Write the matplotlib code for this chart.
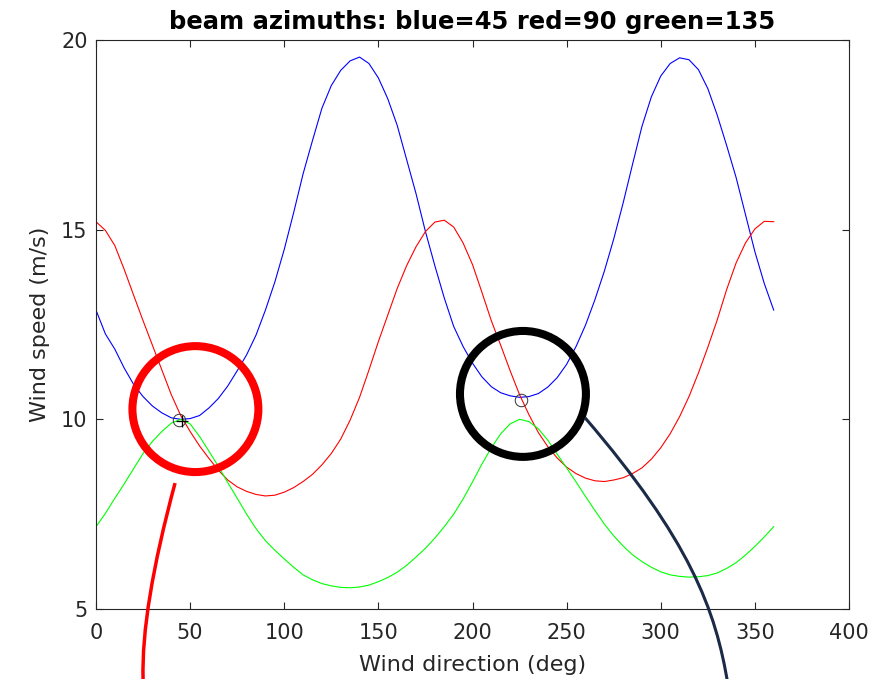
import numpy as np
import matplotlib
matplotlib.use("Agg")
import matplotlib.pyplot as plt
from matplotlib.patches import Ellipse, PathPatch
from matplotlib.path import Path

# ---- data ----
direction = list(range(0, 365, 5))

blue_speed = [12.88, 12.25, 11.85, 11.35, 10.92, 10.60, 10.35, 10.17, 10.04, 10.00,
              10.02, 10.10, 10.30, 10.55, 10.88, 11.28, 11.70, 12.22, 12.88, 13.62,
              14.48, 15.45, 16.47, 17.35, 18.20, 18.80, 19.20, 19.45, 19.55, 19.38,
              19.00, 18.45, 17.75, 16.85, 15.95, 14.95, 14.05, 13.20, 12.45, 11.92,
              11.48, 11.12, 10.86, 10.70, 10.62, 10.58, 10.60, 10.68, 10.85, 11.10,
              11.45, 11.92, 12.48, 13.15, 13.90, 14.75, 15.70, 16.72, 17.72, 18.50,
              19.05, 19.38, 19.53, 19.48, 19.22, 18.72, 18.02, 17.22, 16.38, 15.40,
              14.42, 13.58, 12.88]

red_speed = [15.21, 14.98, 14.58, 13.95, 13.27, 12.60, 11.95, 11.30, 10.65, 10.10,
             9.68, 9.30, 8.97, 8.66, 8.40, 8.22, 8.10, 8.02, 7.98, 8.00,
             8.08, 8.20, 8.36, 8.55, 8.80, 9.10, 9.48, 9.98, 10.58, 11.30,
             12.05, 12.75, 13.45, 14.05, 14.55, 14.95, 15.20, 15.25, 15.07, 14.65,
             14.08, 13.35, 12.60, 11.95, 11.28, 10.65, 10.12, 9.65, 9.28, 8.98,
             8.74, 8.57, 8.45, 8.38, 8.36, 8.40, 8.46, 8.57, 8.72, 8.95,
             9.25, 9.62, 10.07, 10.60, 11.22, 11.90, 12.62, 13.42, 14.12, 14.65,
             15.02, 15.22, 15.21]

green_speed = [7.17, 7.52, 7.92, 8.30, 8.70, 9.10, 9.42, 9.68, 9.90, 10.00,
               9.88, 9.55, 9.16, 8.76, 8.33, 7.92, 7.50, 7.12, 6.80, 6.55,
               6.32, 6.10, 5.90, 5.77, 5.67, 5.61, 5.57, 5.56, 5.58, 5.63,
               5.72, 5.83, 5.97, 6.15, 6.37, 6.60, 6.87, 7.17, 7.50, 7.90,
               8.35, 8.82, 9.25, 9.62, 9.88, 10.00, 9.94, 9.75, 9.45, 9.08,
               8.72, 8.35, 7.97, 7.60, 7.24, 6.93, 6.66, 6.43, 6.25, 6.10,
               5.98, 5.90, 5.86, 5.84, 5.85, 5.88, 5.95, 6.07, 6.22, 6.42,
               6.65, 6.90, 7.17]

solution_dir = [44.0, 226.0]
solution_speed = [9.98, 10.52]
true_dir = [45.5]
true_speed = [9.95]

x_ticks = [0, 50, 100, 150, 200, 250, 300, 350, 400]
y_ticks = [5, 10, 15, 20]

title = "beam azimuths: blue=45 red=90 green=135"

# ---- figure ----
plt.rcParams['font.family'] = ['DejaVu Sans']
fig = plt.figure(figsize=(8.9, 6.79), dpi=100)
ax = fig.add_axes([96 / 890, 70 / 679, 753 / 890, 569 / 679])

ax.plot(direction, blue_speed, color=(0, 0, 1), lw=0.8)
ax.plot(direction, red_speed, color=(1, 0, 0), lw=0.8)
ax.plot(direction, green_speed, color=(0, 1, 0), lw=0.8)
ax.plot(solution_dir, solution_speed, 'o', mfc='none', mec='#333333', ms=9, mew=0.7)
ax.plot(true_dir, true_speed, '+', color='black', ms=9, mew=0.9)

ax.set_xlim(0, 400)
ax.set_ylim(5, 20)
ax.set_xticks(x_ticks)
ax.set_yticks(y_ticks)
ax.tick_params(direction='in', length=5, width=0.8, colors='#262626',
               labelsize=15, top=True, right=True)
ax.tick_params(axis='x', pad=10)
ax.tick_params(axis='y', pad=6)
for s in ax.spines.values():
    s.set_color('#262626')
    s.set_linewidth(0.8)

ax.set_xlabel("Wind direction (deg)", fontsize=16, color='#262626', labelpad=9)
ax.set_ylabel("Wind speed (m/s)", fontsize=16, color='#262626', labelpad=8)
ax.set_title(title, fontsize=17.5, fontweight='bold', pad=8)

# ---- annotations ----
ax.add_patch(Ellipse((52.8, 10.27), 66.9, 3.32, fill=False, ec=(1, 0, 0),
                     lw=5.8, clip_on=False, zorder=5))
ax.add_patch(Ellipse((226.8, 10.67), 66.9, 3.32, fill=False, ec='black',
                     lw=5.8, clip_on=False, zorder=5))

red_path = Path([(42.0, 8.32), (23.9, 5.0), (25.0, 3.155)],
                [Path.MOVETO, Path.CURVE3, Path.CURVE3])
ax.add_patch(PathPatch(red_path, fill=False, ec=(1, 0, 0), lw=2.5, clip_on=False, zorder=5))

navy_path = Path([(259.8, 10.04), (315.5, 6.82), (329.3, 4.97), (335.7, 3.0)],
                 [Path.MOVETO, Path.CURVE4, Path.CURVE4, Path.CURVE4])
ax.add_patch(PathPatch(navy_path, fill=False, ec='#1b2a47', lw=2.2, clip_on=False, zorder=5))

fig.savefig("out.png", dpi=100)
